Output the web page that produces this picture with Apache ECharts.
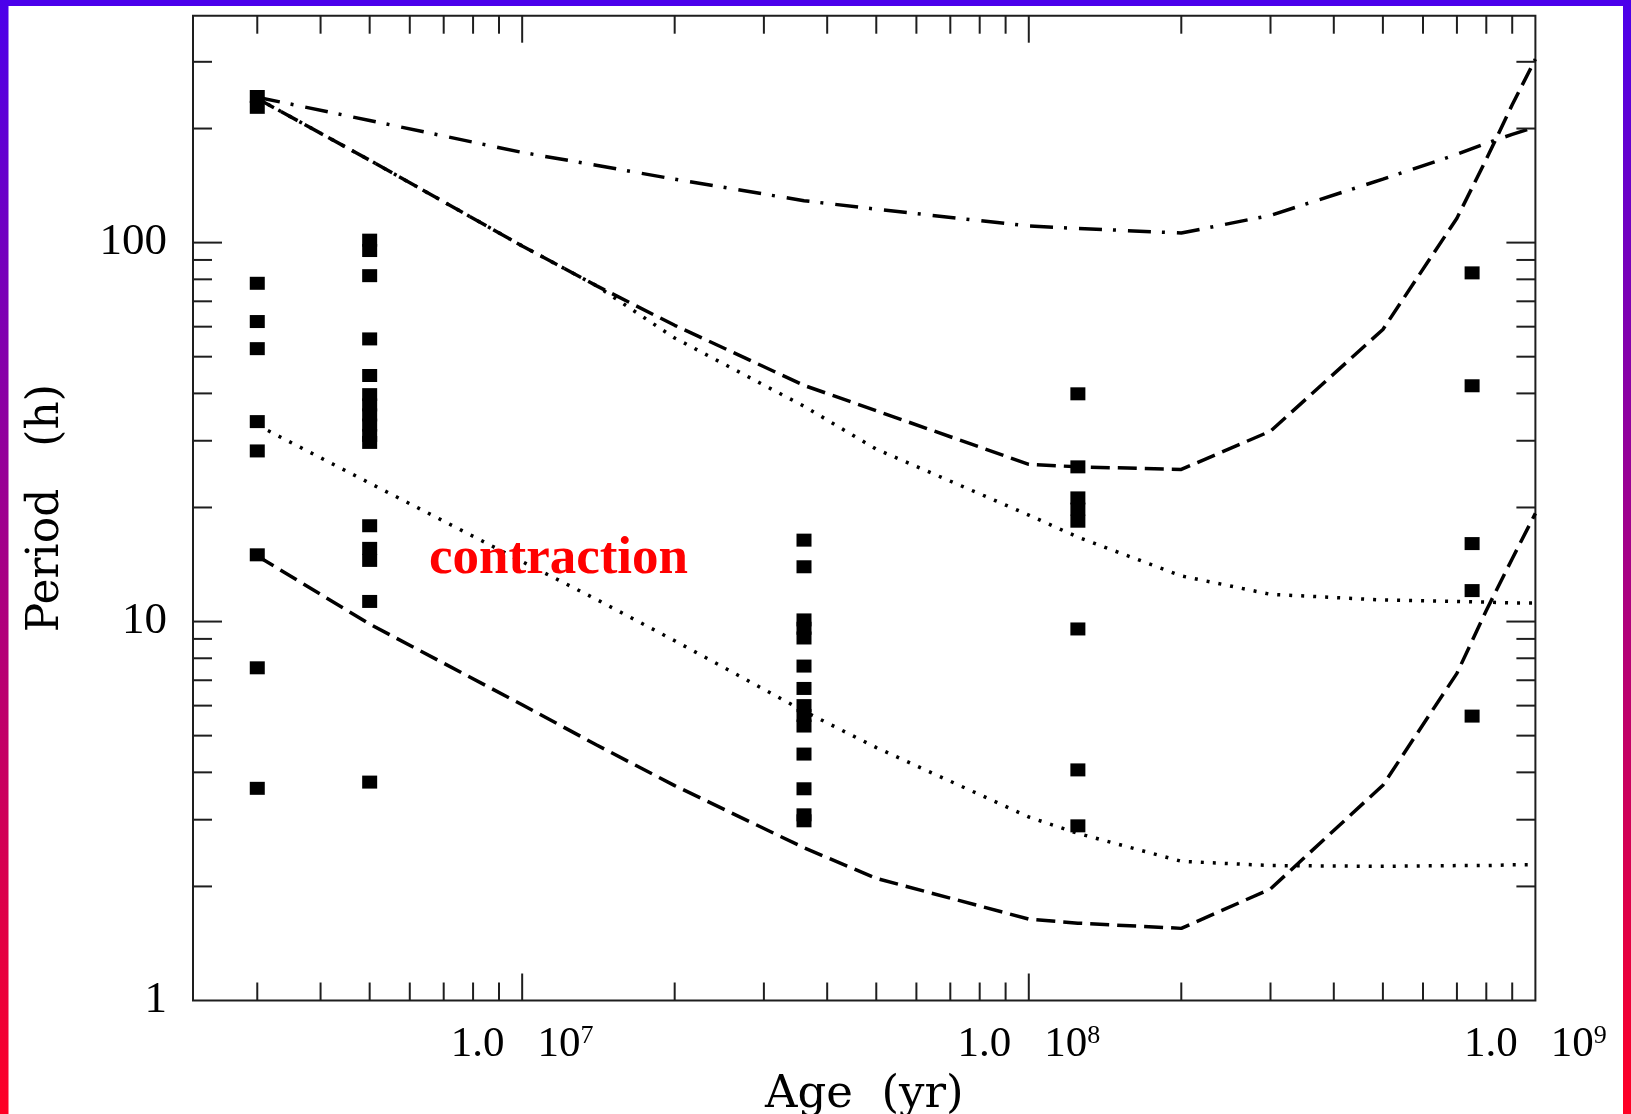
<!DOCTYPE html>
<html>
<head>
<meta charset="utf-8">
<script src="https://cdn.jsdelivr.net/npm/echarts@6/dist/echarts.min.js"></script>
<style>
  html, body { margin: 0; padding: 0; background: #ffffff; }
  #chart { width: 1631px; height: 1114px; }
</style>
</head>
<body>
<div id="chart"></div>
<script>
// Axis ranges (years, hours)
const X_MIN = 2.24e6, X_MAX = 1e9;
const Y_MIN = 1, Y_MAX = 397;

// Tick positions
const X_MAJOR_TICKS = [1e7, 1e8];
const X_MINOR_TICKS = [3e6, 4e6, 5e6, 6e6, 7e6, 8e6, 9e6,
  2e7, 3e7, 4e7, 5e7, 6e7, 7e7, 8e7, 9e7,
  2e8, 3e8, 4e8, 5e8, 6e8, 7e8, 8e8, 9e8];
const Y_MAJOR_TICKS = [10, 100];
const Y_MINOR_TICKS = [2, 3, 4, 5, 6, 7, 8, 9, 20, 30, 40, 50, 60, 70, 80, 90, 200, 300];
const X_LABELS = [1e7, 1e8, 1e9];
const Y_LABELS = [1, 10, 100];

// Model tracks: period (h) against age (yr)
const MODEL_AGES       = [3e6, 5e6, 1e7, 1.4e7, 2e7, 3.6e7, 5e7, 1e8, 1.25e8, 2e8, 3e8, 5e8, 7e8, 8e8, 9e8, 1e9];
const P_DASHDOT        = [242, 210, 173, 160, 147, 129, 122.5, 110.6, 109, 106, 118, 147, 171, 183, 193, 202];
const P_DASH_UPPER     = [240, 165, 98, 77, 60.5, 42, 36, 26, 25.6, 25.2, 31.8, 59, 116, 166, 231, 305];
const P_DOT_UPPER      = [240, 165, 98, 77, 56, 37, 28.5, 19.1, 16.7, 13.2, 11.8, 11.4, 11.3, 11.25, 11.2, 11.2];
const P_DOT_LOWER      = [33, 23.2, 14.4, 11.45, 8.9, 5.8, 4.65, 3.05, 2.76, 2.33, 2.27, 2.26, 2.27, 2.27, 2.28, 2.28];
const P_DASH_LOWER     = [14.9, 9.85, 6.03, 4.73, 3.69, 2.53, 2.1, 1.64, 1.6, 1.55, 1.97, 3.7, 7.3, 10.7, 14.65, 19.3];

// Observed rotation periods (h), one list per cluster age
const CLUSTER_AGES = [3e6, 5e6, 3.6e7, 1.25e8, 7.5e8];
const P_3MYR   = [243, 227.5, 78.1, 61.9, 52.5, 33.7, 28.2, 15.0, 7.55, 3.63];
const P_5MYR   = [101.5, 95.3, 81.8, 55.7, 44.6, 39.7, 37.3, 35.1, 33.0, 31.0, 29.7, 17.9, 15.6, 14.5, 11.3, 3.77];
const P_36MYR  = [16.4, 13.95, 10.1, 9.6, 9.05, 7.63, 6.66, 6.0, 5.65, 5.3, 4.47, 3.62, 3.09, 2.98];
const P_125MYR = [39.9, 25.6, 21.2, 19.8, 18.4, 9.56, 4.06, 2.89];
const P_750MYR = [83.2, 41.9, 16.06, 12.07, 5.63];

const FRAME = '#1e1e1e';
const LABEL_FONT = 'Liberation Serif';
const TITLE_FONT = 'DejaVu Serif';

const pairs = (ages, periods) => periods.map((p, i) => [Array.isArray(ages) ? ages[i] : ages, p]);
const clusterPoints = [P_3MYR, P_5MYR, P_36MYR, P_125MYR, P_750MYR]
  .flatMap((list, k) => pairs(CLUSTER_AGES[k], list));

const isPow10 = v => Math.abs(Math.log10(v) - Math.round(Math.log10(v))) < 1e-6;

// Inward ticks mirrored on both sides of the frame
function tickSeries(dir, values, len) {
  return {
    type: 'custom', silent: true, animation: false, z: 5, clip: false,
    data: values.map(v => dir === 'x' ? [v, Y_MIN] : [X_MIN, v]),
    renderItem(params, api) {
      const style = { stroke: FRAME, lineWidth: 2 };
      if (dir === 'x') {
        const v = api.value(0);
        const b = api.coord([v, Y_MIN]), t = api.coord([v, Y_MAX]);
        return { type: 'group', children: [
          { type: 'line', shape: { x1: b[0], y1: b[1], x2: b[0], y2: b[1] - len }, style },
          { type: 'line', shape: { x1: t[0], y1: t[1], x2: t[0], y2: t[1] + len }, style }
        ] };
      }
      const v = api.value(1);
      const l = api.coord([X_MIN, v]), r = api.coord([X_MAX, v]);
      return { type: 'group', children: [
        { type: 'line', shape: { x1: l[0], y1: l[1], x2: l[0] + len, y2: l[1] }, style },
        { type: 'line', shape: { x1: r[0], y1: r[1], x2: r[0] - len, y2: r[1] }, style }
      ] };
    }
  };
}

function track(values, dash) {
  return {
    type: 'line', data: pairs(MODEL_AGES, values), showSymbol: false, symbol: 'none',
    silent: true, animation: false, z: 3,
    lineStyle: { color: '#000', width: 3.5, type: dash, opacity: 1 }
  };
}

const chart = echarts.init(document.getElementById('chart'), null, { renderer: 'canvas' });

chart.setOption({
  backgroundColor: '#ffffff',
  animation: false,
  textStyle: { fontFamily: LABEL_FONT, color: '#000' },
  grid: {
    left: 193, top: 15.7, width: 1342.4, height: 984.8,
    show: true, borderColor: FRAME, borderWidth: 2, backgroundColor: 'transparent',
    outerBoundsMode: 'none', containLabel: false
  },
  xAxis: {
    type: 'log', logBase: 10, min: X_MIN, max: X_MAX,
    name: 'Age  (yr)', nameLocation: 'middle', nameGap: 72,
    nameTextStyle: { fontFamily: TITLE_FONT, fontSize: 45, color: '#000' },
    axisLine: { show: false }, axisTick: { show: false }, splitLine: { show: false },
    axisLabel: {
      margin: 23, showMinLabel: true, showMaxLabel: true,
      formatter: v => {
        if (!isPow10(v) || !X_LABELS.some(t => Math.abs(t / v - 1) < 1e-6)) return '';
        const e = Math.round(Math.log10(v));
        const m = (v / Math.pow(10, e)).toFixed(1);
        return '{m|' + m + '}{b|10}{s|' + e + '}';
      },
      rich: {
        m: { fontFamily: LABEL_FONT, fontSize: 43, color: '#000', padding: [0, 33, 0, 0] },
        b: { fontFamily: LABEL_FONT, fontSize: 43, color: '#000' },
        s: { fontFamily: LABEL_FONT, fontSize: 26, color: '#000', verticalAlign: 'top' }
      }
    }
  },
  yAxis: {
    type: 'log', logBase: 10, min: Y_MIN, max: Y_MAX,
    name: 'Period   (h)', nameLocation: 'middle', nameGap: 124,
    nameTextStyle: { fontFamily: TITLE_FONT, fontSize: 44, color: '#000' },
    axisLine: { show: false }, axisTick: { show: false }, splitLine: { show: false },
    axisLabel: {
      margin: 26, fontFamily: LABEL_FONT, fontSize: 45, color: '#000',
      showMinLabel: true, showMaxLabel: false,
      formatter: v => (isPow10(v) && Y_LABELS.some(t => Math.abs(t / v - 1) < 1e-6))
        ? String(Math.round(v)) : ''
    }
  },
  graphic: [
    { type: 'rect', silent: true, z: 100, shape: { x: 0, y: 0, width: 1631, height: 6 },
      style: { fill: '#4b00eb' } },
    { type: 'rect', silent: true, z: 100, shape: { x: 0, y: 0, width: 8.5, height: 1114 },
      style: { fill: new echarts.graphic.LinearGradient(0, 0, 0, 1, [
        { offset: 0, color: '#4b00eb' }, { offset: 1, color: '#ff0024' }]) } },
    { type: 'rect', silent: true, z: 100, shape: { x: 1623, y: 0, width: 8, height: 1114 },
      style: { fill: new echarts.graphic.LinearGradient(0, 0, 0, 1, [
        { offset: 0, color: '#4b00eb' }, { offset: 1, color: '#ff0024' }]) } },
    { type: 'text', silent: true, z: 50, left: 429, top: 533,
      style: { text: 'contraction', fill: '#ff0000',
        font: 'bold 53px "Liberation Serif"' } }
  ],
  series: [
    track(P_DASHDOT, [23, 11, 3, 12]),
    track(P_DASH_UPPER, [19, 8]),
    track(P_DOT_UPPER, [3, 9]),
    track(P_DOT_LOWER, [3, 9]),
    track(P_DASH_LOWER, [19, 8]),
    {
      type: 'scatter', data: clusterPoints, symbol: 'rect', symbolSize: [15, 13],
      itemStyle: { color: '#000', opacity: 1 }, silent: true, animation: false, z: 4
    },
    tickSeries('x', X_MAJOR_TICKS, 27),
    tickSeries('x', X_MINOR_TICKS, 18),
    tickSeries('y', Y_MAJOR_TICKS, 29),
    tickSeries('y', Y_MINOR_TICKS, 19)
  ]
});
</script>
</body>
</html>
